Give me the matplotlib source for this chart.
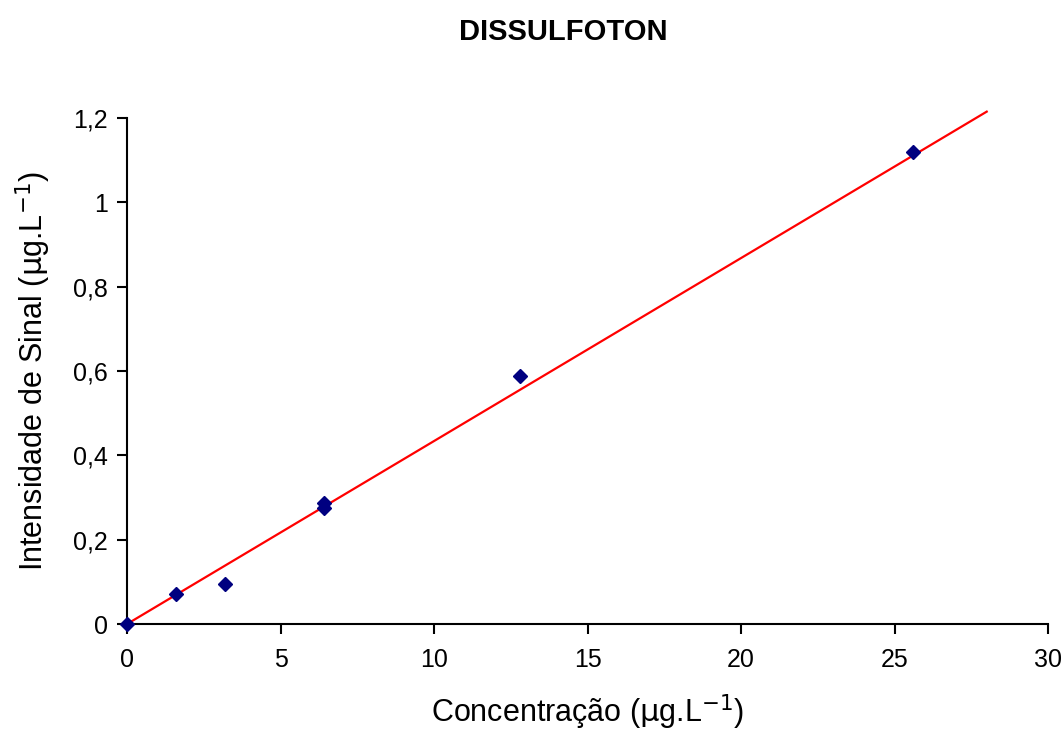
import numpy as np
import matplotlib.pyplot as plt

# dados
conc = [0, 1.6, 3.2, 6.4, 6.4, 12.8, 25.6]
sinal = [0, 0.071, 0.095, 0.276, 0.287, 0.588, 1.119]

# reta de calibração
reta_x = [0, 28]
reta_y = [0, 1.215]

plt.rcParams['font.family'] = ['Liberation Sans', 'DejaVu Sans']

fig = plt.figure(figsize=(10.63, 7.35), dpi=100)
ax = fig.add_axes([0.1195, 0.151, 0.8665, 0.6885])

ax.plot(reta_x, reta_y, color='red', lw=1.6, zorder=2, clip_on=False)
ax.plot(conc, sinal, 'D', color='#000080', ms=7.5, clip_on=False, zorder=3)

ax.set_xlim(0, 30)
ax.set_ylim(0, 1.2)
ax.set_xticks([0, 5, 10, 15, 20, 25, 30])
ax.set_yticks([0, 0.2, 0.4, 0.6, 0.8, 1.0, 1.2])
ax.set_yticklabels(['0', '0,2', '0,4', '0,6', '0,8', '1', '1,2'])

for s in ['top', 'right']:
    ax.spines[s].set_visible(False)
for s in ['left', 'bottom']:
    ax.spines[s].set_linewidth(1.5)
ax.tick_params(direction='out', length=7, width=1.5, labelsize=18, pad=7)
ax.tick_params(axis='x', pad=10)

ax.set_xlabel('Concentração ($\\mathrm{\\mu}$g.L$^{\\mathrm{-1}}$)', fontsize=22, labelpad=15)
ax.set_ylabel('Intensidade de Sinal ($\\mathrm{\\mu}$g.L$^{\\mathrm{-1}}$)', fontsize=22, labelpad=14)
fig.text(0.53, 0.957, 'DISSULFOTON', fontsize=21, fontweight='bold', ha='center', va='center')

plt.savefig('out.png', dpi=100)
